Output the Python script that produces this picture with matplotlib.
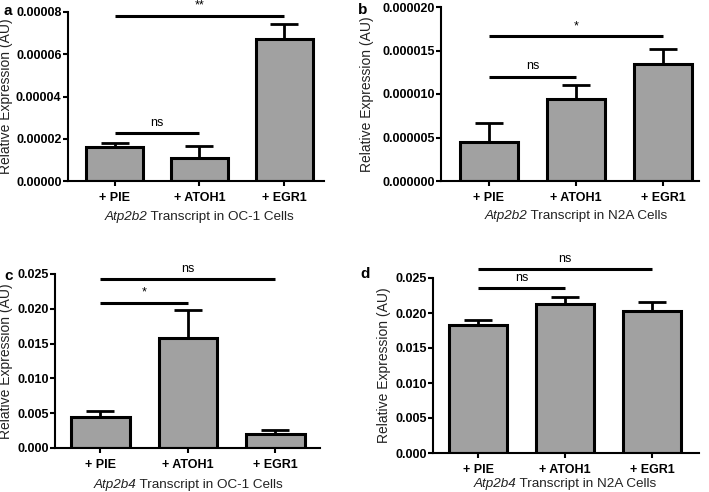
import matplotlib
matplotlib.use("Agg")
import matplotlib.pyplot as plt
import numpy as np
from matplotlib.transforms import offset_copy

plt.rcParams['font.family'] = ['Liberation Sans', 'DejaVu Sans']

categories = ["+ PIE", "+ ATOH1", "+ EGR1"]

# panel a: Atp2b2 in OC-1
a_vals = [1.62e-5, 1.07e-5, 6.71e-5]
a_err = [0.19e-5, 0.60e-5, 0.71e-5]
a_ticks = [0.0, 2e-5, 4e-5, 6e-5, 8e-5]
a_ticklabels = ["0.00000", "0.00002", "0.00004", "0.00006", "0.00008"]
a_sig = [(0, 1, 2.25e-5, "ns"), (0, 2, 7.83e-5, "**")]

# panel b: Atp2b2 in N2A
b_vals = [4.44e-6, 9.45e-6, 1.35e-5]
b_err = [2.18e-6, 1.53e-6, 1.70e-6]
b_ticks = [0.0, 5e-6, 1e-5, 1.5e-5, 2e-5]
b_ticklabels = ["0.000000", "0.000005", "0.000010", "0.000015", "0.000020"]
b_sig = [(0, 1, 1.20e-5, "ns"), (0, 2, 1.664e-5, "*")]

# panel c: Atp2b4 in OC-1
c_vals = [0.00441, 0.01576, 0.00201]
c_err = [0.00086, 0.00402, 0.00062]
c_ticks = [0.0, 0.005, 0.010, 0.015, 0.020, 0.025]
c_ticklabels = ["0.000", "0.005", "0.010", "0.015", "0.020", "0.025"]
c_sig = [(0, 1, 0.02083, "*"), (0, 2, 0.02423, "ns")]

# panel d: Atp2b4 in N2A
d_vals = [0.01826, 0.02135, 0.02035]
d_err = [0.00072, 0.00095, 0.00128]
d_ticks = [0.0, 0.005, 0.010, 0.015, 0.020, 0.025]
d_ticklabels = ["0.000", "0.005", "0.010", "0.015", "0.020", "0.025"]
d_sig = [(0, 1, 0.02358, "ns"), (0, 2, 0.02633, "ns")]

W, H = 709, 492
fig = plt.figure(figsize=(W / 100, H / 100), dpi=100)

def px_axes(l, r, t, b):
    return fig.add_axes([l / W, 1 - b / H, (r - l) / W, (b - t) / H])

# (label, axes box px, xlim, data..., gene, cell, label pos px, ylabel centre x px, xlabel y px)
panels = [
    ("a", (68, 324, 12, 181), (-0.55, 2.47), a_vals, a_err, a_ticks, a_ticklabels, a_sig,
     "Atp2b2", "OC-1", (4, 4), 6, 217),
    ("b", (441, 699, 7, 181), (-0.55, 2.41), b_vals, b_err, b_ticks, b_ticklabels, b_sig,
     "Atp2b2", "N2A", (358, 3), 367, 216),
    ("c", (55, 320, 274, 448), (-0.52, 2.51), c_vals, c_err, c_ticks, c_ticklabels, c_sig,
     "Atp2b4", "OC-1", (4, 269), 6, 485),
    ("d", (433, 699, 278, 453), (-0.52, 2.54), d_vals, d_err, d_ticks, d_ticklabels, d_sig,
     "Atp2b4", "N2A", (360, 267), 384, 484),
]

bar_color = "#a1a1a1"
FS = 9.0
XFS = 9.7
fig.canvas.draw()
r = fig.canvas.get_renderer()

for (lab, box, xl, vals, errs, ticks, tlabels, sigs, gene, cell, lpos, ylx, xly) in panels:
    ax = px_axes(*box)
    x = np.arange(len(categories))
    ax.bar(x, vals, width=0.67, color=bar_color, edgecolor="black", linewidth=2.2, zorder=2)
    ax.errorbar(x, vals, yerr=[np.zeros(len(vals)), errs], fmt="none", ecolor="black",
                elinewidth=2.0, capsize=10, capthick=2.0, zorder=1)
    ax.set_xlim(*xl)
    ax.set_ylim(ticks[0], ticks[-1])
    ax.set_yticks(ticks)
    ax.set_yticklabels(tlabels, fontsize=FS, fontweight="bold")
    ax.set_xticks(x)
    ax.set_xticklabels(categories, fontsize=FS, fontweight="bold")
    for s in ["top", "right"]:
        ax.spines[s].set_visible(False)
    for s in ["left", "bottom"]:
        ax.spines[s].set_linewidth(1.5)
    ax.tick_params(axis="y", width=1.5, length=3.6, direction="out", pad=1)
    ax.tick_params(axis="x", width=1.5, length=3.6, direction="out", pad=4.5)
    ax.set_ylabel("Relative Expression (AU)", fontsize=10, color="#222222")
    ax.yaxis.label.set_verticalalignment("center")
    l, rr, t, b = box
    ax.yaxis.set_label_coords((ylx - l) / (rr - l), 0.5)
    # x label: italic gene name + regular remainder, centred under the middle bar
    rest = " Transcript in " + cell + " Cells"
    tg = fig.text(0, 0, gene, fontsize=XFS, style="italic")
    tr = fig.text(0, 0, rest, fontsize=XFS)
    wg = tg.get_window_extent(r).width
    wr = tr.get_window_extent(r).width
    tg.remove(); tr.remove()
    cx = l + (1 - xl[0]) / (xl[1] - xl[0]) * (rr - l)
    x0 = cx - (wg + wr) / 2
    fig.text(x0 / W, 1 - xly / H, gene, fontsize=XFS, style="italic", va="center", ha="left",
             color="#222222")
    fig.text((x0 + wg) / W, 1 - xly / H, rest, fontsize=XFS, va="center", ha="left",
             color="#222222")
    txt_tr = offset_copy(ax.transData, fig=fig, x=0, y=3, units="points")
    for (i, j, yv, txt) in sigs:
        ax.plot([x[i], x[j]], [yv, yv], color="black", linewidth=2.2, clip_on=False, zorder=3,
                solid_capstyle="butt")
        ax.text((x[i] + x[j]) / 2, yv, txt, ha="center", va="bottom", fontsize=FS,
                clip_on=False, transform=txt_tr)
    fig.text(lpos[0] / W, 1 - lpos[1] / H, lab, fontsize=11, fontweight="bold", va="top", ha="left")

fig.savefig("out.png", dpi=100)
